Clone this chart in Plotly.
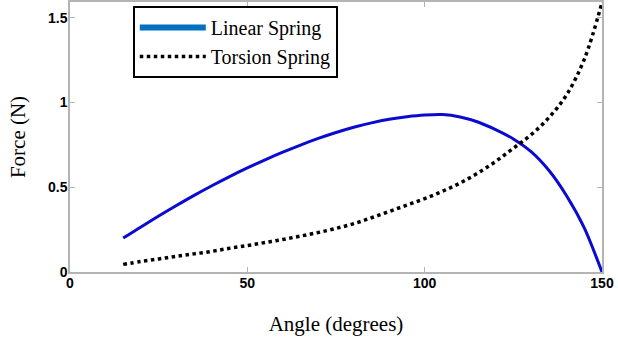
import plotly.graph_objects as go

angle = [15, 20, 25, 30, 35, 40, 45, 50, 55, 60, 65, 70, 75, 80, 85, 90, 95,
         100, 105, 110, 115, 120, 125, 130, 135, 140, 145, 150]
linear_force = [0.200, 0.266, 0.330, 0.392, 0.452, 0.509, 0.563, 0.614, 0.662, 0.707,
                0.749, 0.788, 0.823, 0.854, 0.880, 0.901, 0.916, 0.926, 0.929, 0.915,
                0.885, 0.840, 0.785, 0.710, 0.600, 0.450, 0.260, 0.0]
torsion_force = [0.045, 0.062, 0.077, 0.092, 0.107, 0.122, 0.140, 0.156, 0.174, 0.192,
                 0.212, 0.233, 0.257, 0.285, 0.320, 0.357, 0.395, 0.433, 0.476, 0.525,
                 0.584, 0.652, 0.730, 0.810, 0.910, 1.045, 1.255, 1.590]
x_ticks = [0, 50, 100, 150]
y_ticks = [0, 0.5, 1, 1.5]
y_tick_labels = ["0", "0.5", "1", "1.5"]

fig = go.Figure()
fig.add_trace(go.Scatter(x=angle, y=linear_force, mode="lines", showlegend=False,
                         line=dict(color="#0a0ad0", width=3, shape="spline", smoothing=0.8)))
fig.add_trace(go.Scatter(x=angle, y=torsion_force, mode="lines", showlegend=False,
                         line=dict(color="black", width=3.5, dash="dot", shape="spline",
                                   smoothing=1.0)))
# legend entries
fig.add_trace(go.Scatter(x=[None], y=[None], mode="lines", name="Linear Spring",
                         line=dict(color="#0070c0", width=6)))
fig.add_trace(go.Scatter(x=[None], y=[None], mode="lines", name="Torsion Spring",
                         line=dict(color="black", width=3.5, dash="dot")))

axis_common = dict(showgrid=False, zeroline=False, showline=True, mirror="ticks",
                   linecolor="#b4b4b4", linewidth=1.5, ticks="inside", ticklen=5,
                   tickcolor="#b4b4b4",
                   tickfont=dict(family="Liberation Sans", size=14, color="black",
                                 weight="bold"),
                   title_font=dict(family="Liberation Serif", size=21, color="black"))

fig.update_layout(
    width=618, height=345,
    margin=dict(l=70, r=16, t=0, b=73),
    plot_bgcolor="white", paper_bgcolor="white",
    xaxis=dict(range=[0, 150], tickvals=x_ticks, title_text="Angle (degrees)",
               title_standoff=27, ticklabelstandoff=-3, **axis_common),
    yaxis=dict(range=[0, 1.593], tickvals=y_ticks, ticktext=y_tick_labels,
               title_text="Force (N)", title_standoff=17, ticklabelstandoff=-2,
               **axis_common),
    legend=dict(x=0.118, y=0.985, xanchor="left", yanchor="top",
                bordercolor="black", borderwidth=2, bgcolor="white",
                font=dict(family="Liberation Serif", size=20, color="black"),
                itemwidth=66, tracegroupgap=0),
)

fig.write_html("out.html", post_script="document.body.style.margin='0';",
               config={"displayModeBar": False})
